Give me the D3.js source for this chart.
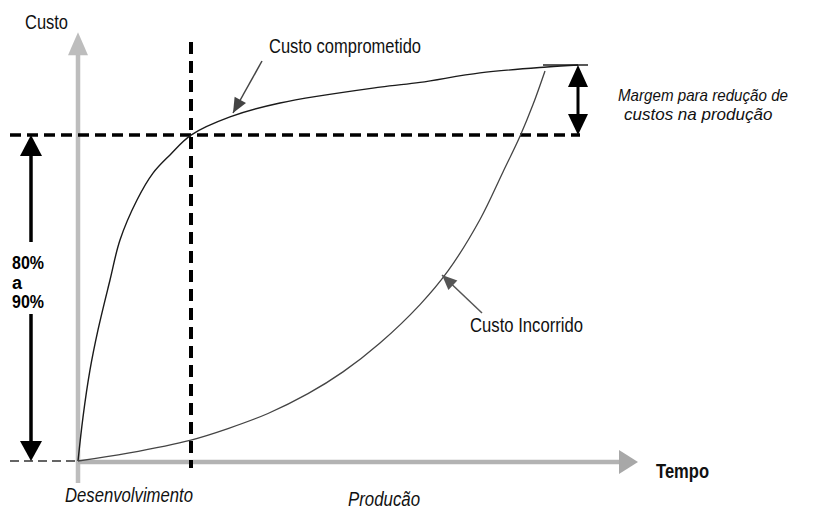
<!DOCTYPE html>
<html>
<head>
<meta charset="utf-8">
<script src="https://cdn.jsdelivr.net/npm/d3@7"></script>
<style>
  html, body { margin: 0; padding: 0; background: #fff; }
  svg { display: block; font-family: "Liberation Sans Narrow", "Liberation Sans", Arial, sans-serif; }
</style>
</head>
<body>
<svg id="chart" width="817" height="510"></svg>
<script>
// -------------------------
// Data (time and cost in % of total)
// -------------------------
const committedTime = [0, 1, 2.4, 4, 6.4, 8.4, 11.8, 15, 18.4, 22.6, 30.4, 40.4, 60.4, 68.4, 80.4, 93.8, 100];
const committedCost = [0, 11.1, 23, 33.1, 45.7, 55.8, 65.9, 72.7, 77.3, 82.3, 86.9, 90.4, 94.4, 95.6, 98, 99.5, 100];

const incurredTime = [0, 10, 22.6, 30, 38, 46, 53, 60.4, 68.4, 74, 80.4, 85, 88.4, 91, 93.4];
const incurredCost = [0, 2.0, 5.3, 8.2, 12.0, 17.0, 22.5, 29.8, 39.5, 48, 61, 73, 82, 90, 98.5];

const devEnd = 22.6;            // end of development phase
const committedAtDevEnd = 82.3; // "80% a 90%"
const committedMax = 100;
const timeAxisEnd = 112;
const costAxisEnd = 108.3;

const percentLabel = ["80%", "a", "90%"];
const marginLabel = ["Margem para redução de", "custos na produção"];

// -------------------------
// Chart
// -------------------------
const svg = d3.select("#chart");
const x = d3.scaleLinear().domain([0, 100]).range([78, 578]);
const y = d3.scaleLinear().domain([0, 100]).range([461, 65]);

const axisGray = "#bdbdbd";
const leftX = 31;

function tri(p1, p2, p3, fill) {
    svg.append("path")
        .attr("d", d3.line()([p1, p2, p3]) + "Z")
        .attr("fill", fill);
}

// axes
svg.append("line")
    .attr("x1", x(0)).attr("x2", x(0))
    .attr("y1", y(0) + 22).attr("y2", y(costAxisEnd) + 22)
    .attr("stroke", axisGray).attr("stroke-width", 4.5);
tri([x(0) - 10, y(costAxisEnd) + 23], [x(0) + 10, y(costAxisEnd) + 23], [x(0), y(costAxisEnd)], axisGray);

svg.append("line")
    .attr("x1", x(0)).attr("x2", x(timeAxisEnd) - 18)
    .attr("y1", y(0) + 1).attr("y2", y(0) + 1)
    .attr("stroke", "#b3b3b3").attr("stroke-width", 4.5);
tri([x(timeAxisEnd) - 19, y(0) - 11], [x(timeAxisEnd) - 19, y(0) + 13], [x(timeAxisEnd), y(0) + 1], "#a8a8a8");

// dashed guides
svg.append("line")
    .attr("x1", 10).attr("x2", x(0))
    .attr("y1", y(0)).attr("y2", y(0))
    .attr("stroke", "#333").attr("stroke-width", 1.5)
    .attr("stroke-dasharray", "9,5");

svg.append("line")
    .attr("x1", 10).attr("x2", x(100) + 2)
    .attr("y1", y(committedAtDevEnd)).attr("y2", y(committedAtDevEnd))
    .attr("stroke", "#000").attr("stroke-width", 3.5)
    .attr("stroke-dasharray", "11,6");

svg.append("line")
    .attr("x1", x(devEnd)).attr("x2", x(devEnd))
    .attr("y1", 42).attr("y2", 468)
    .attr("stroke", "#000").attr("stroke-width", 4)
    .attr("stroke-dasharray", "12,7");

// top line at max committed
svg.append("line")
    .attr("x1", x(93)).attr("x2", x(100) + 10)
    .attr("y1", y(committedMax)).attr("y2", y(committedMax))
    .attr("stroke", "#222").attr("stroke-width", 1.3);

// curves
const line = d3.line()
    .x(d => x(d[0]))
    .y(d => y(d[1]))
    .curve(d3.curveCatmullRom.alpha(0.5));

svg.append("path")
    .datum(d3.zip(committedTime, committedCost))
    .attr("d", line)
    .attr("fill", "none")
    .attr("stroke", "#1a1a1a").attr("stroke-width", 1.4);

svg.append("path")
    .datum(d3.zip(incurredTime, incurredCost))
    .attr("d", line)
    .attr("fill", "none")
    .attr("stroke", "#444").attr("stroke-width", 1.3);

// left double arrow (80% a 90%)
const yTop = y(committedAtDevEnd), yBot = y(0);
svg.append("line")
    .attr("x1", leftX).attr("x2", leftX)
    .attr("y1", yTop + 18).attr("y2", 242)
    .attr("stroke", "#000").attr("stroke-width", 3.5);
svg.append("line")
    .attr("x1", leftX).attr("x2", leftX)
    .attr("y1", 314).attr("y2", yBot - 18)
    .attr("stroke", "#000").attr("stroke-width", 3.5);
tri([leftX - 11, yTop + 21], [leftX + 11, yTop + 21], [leftX, yTop], "#000");
tri([leftX - 11, yBot - 20], [leftX + 11, yBot - 20], [leftX, yBot], "#000");

svg.append("g")
    .selectAll("text")
    .data(percentLabel)
    .join("text")
    .attr("x", 12)
    .attr("y", (d, i) => 269 + i * 19.5)
    .attr("font-size", 18)
    .attr("font-weight", "bold")
    .attr("textLength", d => d.length > 1 ? 32 : null)
    .attr("lengthAdjust", "spacingAndGlyphs")
    .text(d => d);

// right double arrow (margin)
const rx = x(100);
const rTop = y(committedMax), rBot = y(committedAtDevEnd);
svg.append("line")
    .attr("x1", rx).attr("x2", rx)
    .attr("y1", rTop + 18).attr("y2", rBot - 18)
    .attr("stroke", "#000").attr("stroke-width", 3);
tri([rx - 10, rTop + 22], [rx + 10, rTop + 22], [rx, rTop], "#000");
tri([rx - 10, rBot - 21], [rx + 10, rBot - 21], [rx, rBot], "#000");

// pointer arrows
function pointer(x1, y1, x2, y2, color) {
    svg.append("line")
        .attr("x1", x1).attr("y1", y1).attr("x2", x2).attr("y2", y2)
        .attr("stroke", color).attr("stroke-width", 1.5);
    const a = Math.atan2(y2 - y1, x2 - x1);
    const len = 15, half = 6.5;
    const bx = x2 - len * Math.cos(a), by = y2 - len * Math.sin(a);
    tri([bx + half * Math.sin(a), by - half * Math.cos(a)],
        [bx - half * Math.sin(a), by + half * Math.cos(a)],
        [x2, y2], color);
}
pointer(262, 61, 233, 113, "#444");
pointer(482, 313, 442, 275, "#555");

// labels
function label(txt, tx, ty, size, width, opts = {}) {
    svg.append("text")
        .attr("x", tx).attr("y", ty)
        .attr("font-size", size)
        .attr("font-weight", opts.bold ? "bold" : null)
        .attr("font-style", opts.italic ? "italic" : null)
        .attr("textLength", width)
        .attr("lengthAdjust", width ? "spacingAndGlyphs" : null)
        .attr("fill", "#111")
        .text(txt);
}
label("Custo", 25, 29, 19.5, 43);
label("Custo comprometido", 269, 52.5, 20.5, 152);
label("Custo Incorrido", 470, 332, 20, 113);
label(marginLabel[0], 618, 101, 17, 170, {italic: true});
label(marginLabel[1], 624, 120, 17, null, {italic: true});
label("Tempo", 656, 478, 19.5, 53, {bold: true});
label("Desenvolvimento", 65, 502, 19.5, 128, {italic: true});
label("Producão", 348, 506, 19.5, 72, {italic: true});
</script>
</body>
</html>
